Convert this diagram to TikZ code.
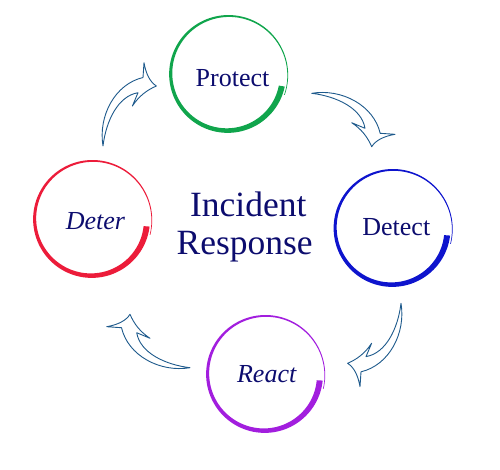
\documentclass[tikz,border=0pt]{standalone}
\usepackage{fontspec}
\setmainfont{Liberation Serif}
\definecolor{txtnavy}{RGB}{12,12,110}
\definecolor{ringgreen}{RGB}{16,165,76}
\definecolor{ringblue}{RGB}{14,20,205}
\definecolor{ringred}{RGB}{236,28,58}
\definecolor{ringpurple}{RGB}{162,30,222}
\definecolor{arrowblue}{RGB}{30,90,140}
\newcommand{\brushring}[4]{%
  \fill[#1] plot[domain=0:1,samples=220,variable=\t]
    ({#2+(55+5*\t+0.5*(0.6+5.4*(1-\t)*(0.7+0.3*(1-\t))))*cos(#4+368*\t)},
     {#3+(55+5*\t+0.5*(0.6+5.4*(1-\t)*(0.7+0.3*(1-\t))))*sin(#4+368*\t)})
    -- plot[domain=1:0,samples=220,variable=\t]
    ({#2+(55+5*\t-0.5*(0.6+5.4*(1-\t)*(0.7+0.3*(1-\t))))*cos(#4+368*\t)},
     {#3+(55+5*\t-0.5*(0.6+5.4*(1-\t)*(0.7+0.3*(1-\t))))*sin(#4+368*\t)})
    -- cycle;}
\tikzset{
  lbl/.style={font=\fontsize{26}{30}\selectfont, text=txtnavy, inner sep=0pt, anchor=base},
  ttl/.style={font=\fontsize{35.5}{40}\selectfont, text=txtnavy, inner sep=0pt, anchor=base},
  arrowline/.style={draw=arrowblue, fill=white, line width=0.9pt, line join=round},
  cyclearrow/.pic={
    \path[arrowline] (0,0) .. controls (30,-5) and (62,12) .. (68.5,40)
      -- (83.3,41) .. controls (72,43) and (64,47) .. (60,53.4)
      .. controls (56,44) and (50,36) .. (40,29.4)
      -- (53.3,35) .. controls (50,15) and (25,3) .. (0,0) -- cycle;
  }
}
\begin{document}
\begin{tikzpicture}[x=1pt,y=-1pt]
\useasboundingbox (0,0) rectangle (500,469);
% rings
\brushring{ringgreen}{228}{74.5}{12}
\brushring{ringblue}{392.5}{228.5}{7}
\brushring{ringred}{92}{219.5}{7}
\brushring{ringpurple}{265}{374.5}{6}
% labels
\node[lbl] (protect) at (232.5,86.7) {Protect};
\node[lbl] (detect) at (396.3,235) {Detect};
\node[lbl] (deter) at (95.5,229.3) {\itshape Deter};
\node[lbl] (react) at (266.7,382.3) {\itshape React};
\node[ttl] (incident) at (248.3,216) {Incident};
\node[ttl] (response) at (244.7,254) {Response};
% arrows
\coordinate (t1) at (103,146);
\coordinate (t2) at (311.7,93.3);
\coordinate (t3) at (401,303.3);
\coordinate (t4) at (190,367.7);
\pic[rotate=90] at (t1) {cyclearrow};
\pic at (t2) {cyclearrow};
\pic[rotate=-90] at (t3) {cyclearrow};
\pic[rotate=180] at (t4) {cyclearrow};
\end{tikzpicture}
\end{document}
